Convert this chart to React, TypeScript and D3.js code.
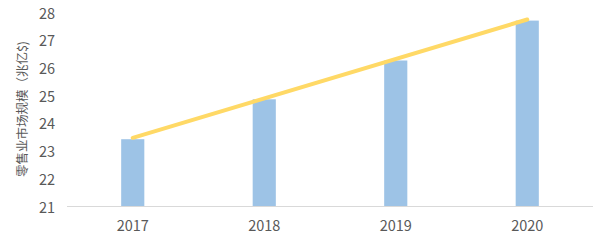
import React from "react";
import * as d3 from "d3";

const categories = ["2017", "2018", "2019", "2020"];
const values = [23.41, 24.85, 26.25, 27.69];
const trendValues = [23.46, 27.73];
const yTicks = [21, 22, 23, 24, 25, 26, 27, 28];
const yLabel = "零售业市场规模（兆亿$)";

const W = 603;
const H = 242;
const margin = { left: 67, right: 10, top: 12, bottom: 36 };
const FONT = "'Noto Sans CJK SC', 'Noto Sans', sans-serif";

export default function App() {
  const x = d3
    .scaleBand<string>()
    .domain(categories)
    .range([margin.left, W - margin.right])
    .paddingInner(0.824)
    .paddingOuter(0.412);
  const y = d3.scaleLinear().domain([21, 28]).range([H - margin.bottom, margin.top]);
  const center = (c: string) => (x(c) as number) + x.bandwidth() / 2;
  const trendX = [center(categories[0]), center(categories[categories.length - 1])];
  const line = d3
    .line<number>()
    .x((_, i) => trendX[i])
    .y((d) => y(d));

  return (
    <svg
      width={W}
      height={H}
      style={{ position: "absolute", left: 0, top: 0, background: "#fff" }}
      fontFamily={FONT}
    >
      {values.map((v, i) => (
        <rect
          key={categories[i]}
          x={x(categories[i])}
          y={y(v)}
          width={x.bandwidth()}
          height={y(21) - y(v)}
          fill="#9DC3E6"
        />
      ))}
      <line
        x1={margin.left}
        x2={W - margin.right}
        y1={y(21) + 0.5}
        y2={y(21) + 0.5}
        stroke="#D9D9D9"
        strokeWidth={1}
      />
      <path d={line(trendValues) || ""} fill="none" stroke="#FFD966" strokeWidth={4} strokeLinecap="round" />
      {yTicks.map((t) => (
        <text
          key={t}
          x={55}
          y={y(t)}
          textAnchor="end"
          dominantBaseline="central"
          fontSize={14.5}
          fill="#595959"
        >
          {t}
        </text>
      ))}
      {categories.map((c) => (
        <text
          key={c}
          x={center(c)}
          y={224}
          textAnchor="middle"
          dominantBaseline="central"
          fontSize={14.5}
          fill="#595959"
        >
          {c}
        </text>
      ))}
      <text
        transform={`translate(21, 109) rotate(-90)`}
        textAnchor="middle"
        dominantBaseline="central"
        fontSize={12.5}
        fill="#595959"
      >
        {yLabel}
      </text>
    </svg>
  );
}
